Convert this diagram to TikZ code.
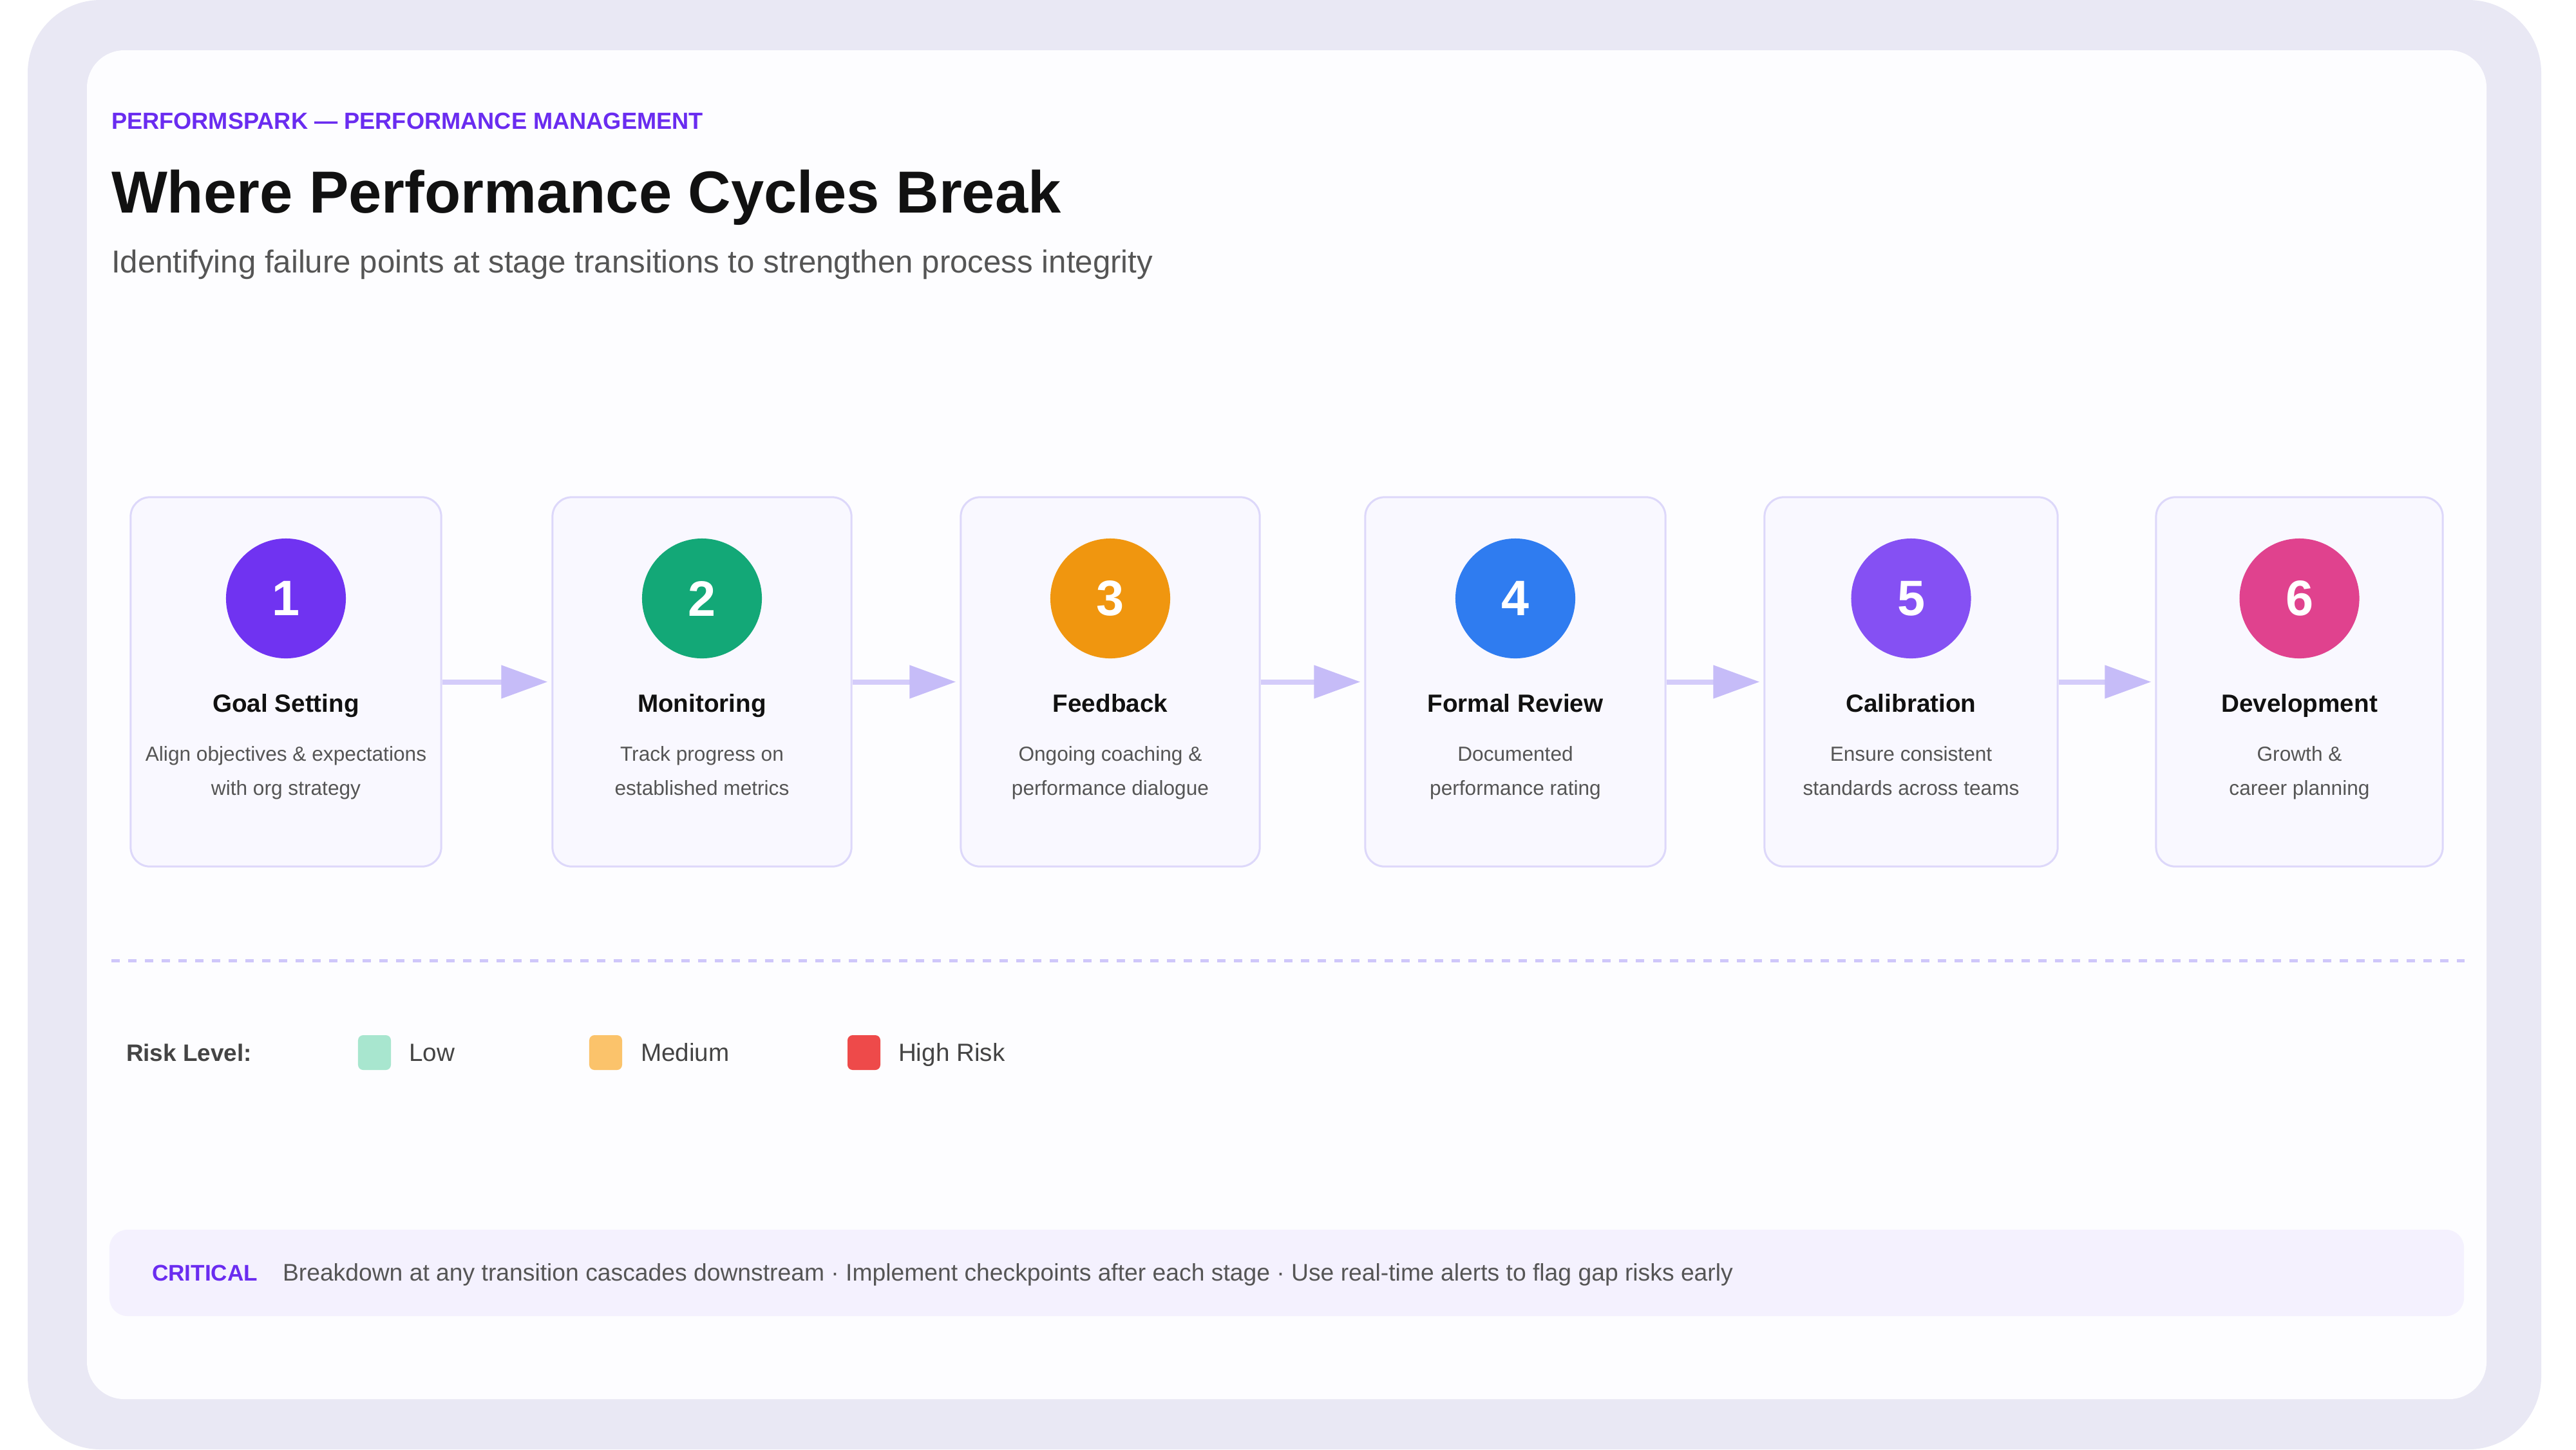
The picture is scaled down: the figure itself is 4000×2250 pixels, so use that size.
\documentclass[tikz,border=0pt]{standalone}
\usepackage{fontspec}
\setmainfont{Liberation Sans}
\usetikzlibrary{arrows.meta}
\definecolor{framebg}{HTML}{E9E8F4}
\definecolor{cardbg}{HTML}{FDFDFF}
\definecolor{brand}{HTML}{6A2CF0}
\definecolor{ink}{HTML}{111111}
\definecolor{subgray}{HTML}{555555}
\definecolor{stagefill}{HTML}{F9F8FF}
\definecolor{stageborder}{HTML}{DDD8FA}
\definecolor{arrowline}{HTML}{D4CCFA}
\definecolor{arrowhead}{HTML}{C6BCF8}
\definecolor{dashcol}{HTML}{CFC7FA}
\definecolor{cOne}{HTML}{7033F1}
\definecolor{cTwo}{HTML}{13A877}
\definecolor{cThree}{HTML}{F0960F}
\definecolor{cFour}{HTML}{2F7CF0}
\definecolor{cFive}{HTML}{8550F3}
\definecolor{cSix}{HTML}{E0428E}
\definecolor{calloutbg}{HTML}{F4F1FE}
\definecolor{lowc}{HTML}{A8E6CF}
\definecolor{medc}{HTML}{FBC36B}
\definecolor{highc}{HTML}{EE4A4A}
\definecolor{legtext}{HTML}{444444}
\newcommand\fsz[2]{\fontsize{#1}{#2}\selectfont}
\tikzset{
  txt/.style={inner sep=0pt, outer sep=0pt, anchor=base west},
  ctxt/.style={inner sep=0pt, outer sep=0pt, anchor=base},
  stagebox/.style={draw=stageborder, line width=0.03cm, fill=stagefill, rounded corners=0.3cm, minimum height=5.73cm, inner sep=0pt},
  numdot/.style={circle, minimum size=1.86cm, inner sep=0pt, text=white, font=\bfseries\fsz{22}{26}},
  stitle/.style={ctxt, font=\bfseries\fsz{11}{13}, text=ink},
  sdesc/.style={ctxt, font=\fsz{9}{11}, text=subgray},
  flow/.style={draw=arrowline, line width=0.08cm, -{Triangle[length=0.72cm, width=0.5cm, color=arrowhead, fill=arrowhead]}, shorten >=0.06cm},
  swatch/.style={rounded corners=0.08cm, minimum width=0.51cm, minimum height=0.54cm, inner sep=0pt},
  legendlabel/.style={txt, font=\fsz{11}{13}, text=legtext}
}
\newcommand\stagecard[8]{%
  \node[stagebox, minimum width=#3cm] (#1) at (#2,1058.5) {};
  \node[numdot, fill=#4] (#1num) at (#2,929) {#5};
  \node[stitle] (#1ttl) at (#2,1105) {#6};
  \node[sdesc] (#1da) at (#2,1181) {#7};
  \node[sdesc] (#1db) at (#2,1234) {#8};
}
\begin{document}
\begin{tikzpicture}[x=0.01cm, y=-0.01cm]
\useasboundingbox (0,0) rectangle (4000,2250);
\fill[white] (0,0) rectangle (4000,2250);
\fill[framebg, rounded corners=1.13cm] (43,0) rectangle (3946,2250);
\fill[cardbg, rounded corners=0.58cm] (135,78) rectangle (3861,2172);

% header
\node[txt, font=\bfseries\fsz{10.3}{12}, text=brand] (kicker) at (173,200) {PERFORMSPARK — PERFORMANCE MANAGEMENT};
\node[txt, font=\bfseries\fsz{26.2}{30}, text=ink] (title) at (173,330) {Where Performance Cycles Break};
\node[txt, font=\fsz{14}{17}, text=subgray] (subtitle) at (173,423) {Identifying failure points at stage transitions to strengthen process integrity};

% stages
\stagecard{s1}{444}{4.82}{cOne}{1}{Goal Setting}{Align objectives \& expectations}{with org strategy}
\stagecard{s2}{1090}{4.64}{cTwo}{2}{Monitoring}{Track progress on}{established metrics}
\stagecard{s3}{1724}{4.64}{cThree}{3}{Feedback}{Ongoing coaching \&}{performance dialogue}
\stagecard{s4}{2353}{4.66}{cFour}{4}{Formal Review}{Documented}{performance rating}
\stagecard{s5}{2967.5}{4.55}{cFive}{5}{Calibration}{Ensure consistent}{standards across teams}
\stagecard{s6}{3570.5}{4.45}{cSix}{6}{Development}{Growth \&}{career planning}

\draw[flow] (s1.east) -- (s2.west);
\draw[flow] (s2.east) -- (s3.west);
\draw[flow] (s3.east) -- (s4.west);
\draw[flow] (s4.east) -- (s5.west);
\draw[flow] (s5.east) -- (s6.west);

% divider
\draw[dashcol, line width=0.05cm, dash pattern=on 0.13cm off 0.13cm] (173,1491) -- (3827,1491);

% legend
\node[txt, font=\bfseries\fsz{10.5}{12}, text=legtext] (risklbl) at (196,1647) {Risk Level:};
\node[swatch, fill=lowc] (lowsw) at (581.5,1634) {};
\node[legendlabel] (lowlbl) at (635,1647) {Low};
\node[swatch, fill=medc] (medsw) at (940.5,1634) {};
\node[legendlabel] (medlbl) at (995,1647) {Medium};
\node[swatch, fill=highc] (highsw) at (1341.5,1634) {};
\node[legendlabel] (highlbl) at (1395,1647) {High Risk};

% callout
\node[fill=calloutbg, rounded corners=0.28cm, minimum width=36.54cm, minimum height=1.34cm, inner sep=0pt] (callout) at (1998,1976) {};
\node[txt, font=\bfseries\fsz{10}{12}, text=brand] (crit) at (236,1988) {CRITICAL};
\node[txt, font=\fsz{10.6}{12}, text=subgray] (critmsg) at (439,1988) {Breakdown at any transition cascades downstream · Implement checkpoints after each stage · Use real-time alerts to flag gap risks early};
\end{tikzpicture}
\end{document}
